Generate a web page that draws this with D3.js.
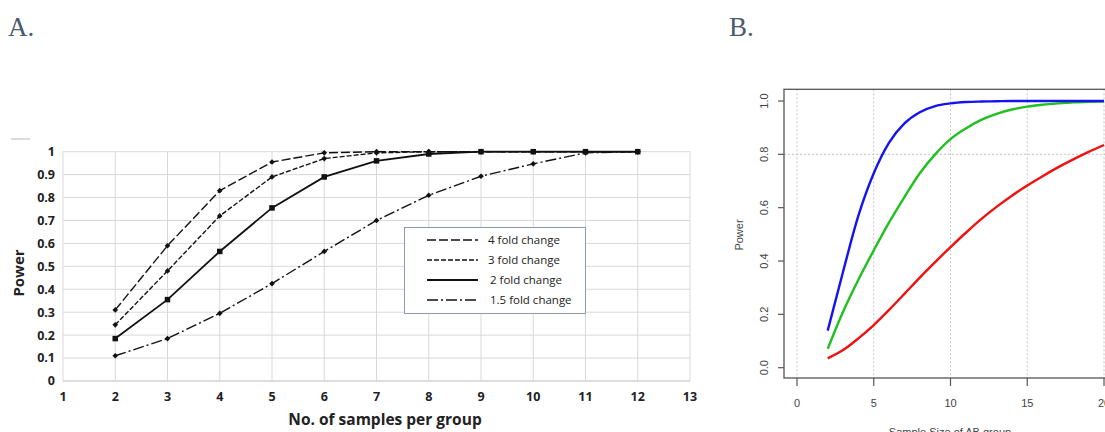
<!DOCTYPE html>
<html>
<head>
<meta charset="utf-8">
<script src="https://cdn.jsdelivr.net/npm/d3@7"></script>
<style>
  body { margin: 0; background: #fff; }
  svg { display: block; }
</style>
</head>
<body>
<script>
// panel A data
var samples = [2, 3, 4, 5, 6, 7, 8, 9, 10, 11, 12];
var fold4 = [0.31, 0.59, 0.83, 0.955, 0.995, 1.0, 1.0, 1.0, 1.0, 1.0, 1.0];
var fold3 = [0.245, 0.48, 0.72, 0.89, 0.97, 0.995, 1.0, 1.0, 1.0, 1.0, 1.0];
var fold2 = [0.185, 0.355, 0.565, 0.755, 0.89, 0.96, 0.99, 1.0, 1.0, 1.0, 1.0];
var fold15 = [0.11, 0.185, 0.295, 0.425, 0.565, 0.70, 0.81, 0.893, 0.947, 0.995, 1.0];
var seriesNames = ["4 fold change", "3 fold change", "2 fold change", "1.5 fold change"];
var xTicksA = [1, 2, 3, 4, 5, 6, 7, 8, 9, 10, 11, 12, 13];
var yTicksA = [0, 0.1, 0.2, 0.3, 0.4, 0.5, 0.6, 0.7, 0.8, 0.9, 1];

// panel B data
var sizeB = [2, 3, 4, 5, 6, 7, 8, 9, 10, 11, 12, 13, 14, 15, 16, 17, 18, 19, 20];
var blueB = [0.139, 0.36, 0.57, 0.729, 0.844, 0.916, 0.958, 0.981, 0.991, 0.996, 0.998, 0.999, 1.0, 1.0, 1.0, 1.0, 1.0, 1.0, 1.0];
var greenB = [0.071, 0.21, 0.33, 0.44, 0.545, 0.64, 0.729, 0.8, 0.857, 0.897, 0.929, 0.952, 0.968, 0.979, 0.986, 0.991, 0.995, 0.997, 0.998];
var redB = [0.035, 0.066, 0.11, 0.16, 0.217, 0.277, 0.338, 0.396, 0.452, 0.506, 0.557, 0.603, 0.645, 0.683, 0.718, 0.751, 0.781, 0.809, 0.835];
var xTicksB = [0, 5, 10, 15, 20];
var yTicksB = [0, 0.2, 0.4, 0.6, 0.8, 1.0];

var W = 1105, H = 432;
var svg = d3.select("body").append("svg").attr("width", W).attr("height", H);

// panel letters
svg.append("text").attr("x", 8).attr("y", 36).text("A.")
  .attr("font-family", "Liberation Serif").attr("font-size", 27).attr("fill", "#4b5a6e");
svg.append("text").attr("x", 729).attr("y", 36).text("B.")
  .attr("font-family", "Liberation Serif").attr("font-size", 27).attr("fill", "#4b5a6e");

// ---------- panel A ----------
var xA = d3.scaleLinear().domain([1, 13]).range([63, 690]);
var yA = d3.scaleLinear().domain([0, 1]).range([381, 151.7]);
var gA = svg.append("g").attr("font-family", "Open Sans");

svg.append("line").attr("x1", 11).attr("x2", 30).attr("y1", 139).attr("y2", 139)
  .attr("stroke", "#d0d0d0").attr("stroke-width", 1.5);

gA.selectAll("line.gy").data(yTicksA).enter().append("line")
  .attr("x1", xA(1)).attr("x2", xA(13))
  .attr("y1", function (d) { return yA(d); }).attr("y2", function (d) { return yA(d); })
  .attr("stroke", function (d) { return d === 0 ? "#bcbcbc" : "#d9d9d9"; }).attr("stroke-width", 1);
gA.selectAll("line.gx").data(xTicksA).enter().append("line")
  .attr("x1", function (d) { return xA(d); }).attr("x2", function (d) { return xA(d); })
  .attr("y1", yA(0)).attr("y2", yA(1))
  .attr("stroke", "#d9d9d9").attr("stroke-width", 1);

gA.selectAll("text.ty").data(yTicksA).enter().append("text")
  .attr("x", 55).attr("y", function (d) { return yA(d); }).attr("dy", "0.35em")
  .attr("text-anchor", "end").attr("font-size", 12.5).attr("font-weight", "bold").attr("fill", "#222")
  .text(function (d) { return d3.format("~g")(d); });
gA.selectAll("text.tx").data(xTicksA).enter().append("text")
  .attr("x", function (d) { return xA(d); }).attr("y", 396.5).attr("dy", "0.35em")
  .attr("text-anchor", "middle").attr("font-size", 12.5).attr("font-weight", "bold").attr("fill", "#222")
  .text(function (d) { return d; });

gA.append("text").attr("transform", "translate(24,273) rotate(-90)")
  .attr("text-anchor", "middle").attr("font-size", 15).attr("font-weight", "bold").attr("fill", "#222")
  .text("Power");
gA.append("text").attr("x", 385).attr("y", 425)
  .attr("text-anchor", "middle").attr("font-size", 15.5).attr("font-weight", "bold").attr("fill", "#222")
  .text("No. of samples per group");

var dashes = ["9,3", "5,2", null, "11,3,2,3"];
var widths = [1.4, 1.4, 1.8, 1.4];
var allA = [fold4, fold3, fold2, fold15];
var lineA = d3.line()
  .x(function (d) { return xA(d[0]); })
  .y(function (d) { return yA(d[1]); });

allA.forEach(function (vals, i) {
  var pts = samples.map(function (s, j) { return [s, vals[j]]; });
  gA.append("path").datum(pts).attr("d", lineA)
    .attr("fill", "none").attr("stroke", "#111")
    .attr("stroke-width", widths[i]).attr("stroke-dasharray", dashes[i]);
  var sz = i === 2 ? 5.5 : 4;
  gA.selectAll("rect.m" + i).data(pts).enter().append("rect")
    .attr("x", function (d) { return xA(d[0]) - sz / 2; })
    .attr("y", function (d) { return yA(d[1]) - sz / 2; })
    .attr("width", sz).attr("height", sz)
    .attr("transform", function (d) {
      return i === 2 ? null : "rotate(45," + xA(d[0]) + "," + yA(d[1]) + ")";
    })
    .attr("fill", "#111");
});

// legend
var leg = gA.append("g");
leg.append("rect").attr("x", 404.5).attr("y", 227.5).attr("width", 181).attr("height", 86)
  .attr("fill", "#fff").attr("stroke", "#8a9bb3").attr("stroke-width", 1);
var legY = d3.scalePoint().domain(seriesNames).range([240, 300]);
seriesNames.forEach(function (name, i) {
  leg.append("line").attr("x1", 427).attr("x2", 478)
    .attr("y1", legY(name)).attr("y2", legY(name))
    .attr("stroke", "#111").attr("stroke-width", widths[i] + 0.3).attr("stroke-dasharray", dashes[i]);
  leg.append("text").attr("x", i < 2 ? 488 : 490).attr("y", legY(name)).attr("dy", "0.35em")
    .attr("font-size", 11.5).attr("fill", "#222").text(name);
});

// ---------- panel B ----------
var xB = d3.scaleLinear().domain([0, 20]).range([797, 1104]);
var yB = d3.scaleLinear().domain([0, 1]).range([367.7, 101]);
var gB = svg.append("g").attr("font-family", "Liberation Sans");
var boxL = 784, boxT = 89.3, boxB = 378, boxR = 1120;

gB.selectAll("line.vg").data(xTicksB).enter().append("line")
  .attr("x1", function (d) { return xB(d); }).attr("x2", function (d) { return xB(d); })
  .attr("y1", boxT).attr("y2", boxB)
  .attr("stroke", "#c4c4c4").attr("stroke-width", 1).attr("stroke-dasharray", "2,2");
gB.append("line").attr("x1", boxL).attr("x2", boxR).attr("y1", yB(0.8)).attr("y2", yB(0.8))
  .attr("stroke", "#c4c4c4").attr("stroke-width", 1).attr("stroke-dasharray", "2,2");

var lineB = d3.line()
  .x(function (d) { return xB(d[0]); })
  .y(function (d) { return yB(d[1]); })
  .curve(d3.curveMonotoneX);
[[redB, "#f01010"], [greenB, "#1fc01f"], [blueB, "#1414f0"]].forEach(function (s) {
  var pts = sizeB.map(function (n, j) { return [n, s[0][j]]; });
  gB.append("path").datum(pts).attr("d", lineB)
    .attr("fill", "none").attr("stroke", s[1]).attr("stroke-width", 2.4);
});

gB.append("rect").attr("x", boxL).attr("y", boxT).attr("width", boxR - boxL).attr("height", boxB - boxT)
  .attr("fill", "none").attr("stroke", "#555").attr("stroke-width", 1.3);

gB.selectAll("line.ty").data(yTicksB).enter().append("line")
  .attr("x1", boxL - 6).attr("x2", boxL)
  .attr("y1", function (d) { return yB(d); }).attr("y2", function (d) { return yB(d); })
  .attr("stroke", "#555").attr("stroke-width", 1.2);
gB.selectAll("text.ty").data(yTicksB).enter().append("text")
  .attr("transform", function (d) { return "translate(768," + yB(d) + ") rotate(-90)"; })
  .attr("text-anchor", "middle").attr("font-size", 11).attr("fill", "#444")
  .text(function (d) { return d3.format(".1f")(d); });
gB.selectAll("line.tx").data(xTicksB).enter().append("line")
  .attr("x1", function (d) { return xB(d); }).attr("x2", function (d) { return xB(d); })
  .attr("y1", boxB).attr("y2", boxB + 8)
  .attr("stroke", "#555").attr("stroke-width", 1.2);
gB.selectAll("text.tx").data(xTicksB).enter().append("text")
  .attr("x", function (d) { return xB(d); }).attr("y", 407)
  .attr("text-anchor", "middle").attr("font-size", 11).attr("fill", "#444")
  .text(function (d) { return d; });

gB.append("text").attr("transform", "translate(743,235) rotate(-90)")
  .attr("text-anchor", "middle").attr("font-size", 11).attr("fill", "#444").text("Power");
gB.append("text").attr("x", 950).attr("y", 436)
  .attr("text-anchor", "middle").attr("font-size", 11).attr("fill", "#444").text("Sample Size of AB group");
</script>
</body>
</html>
